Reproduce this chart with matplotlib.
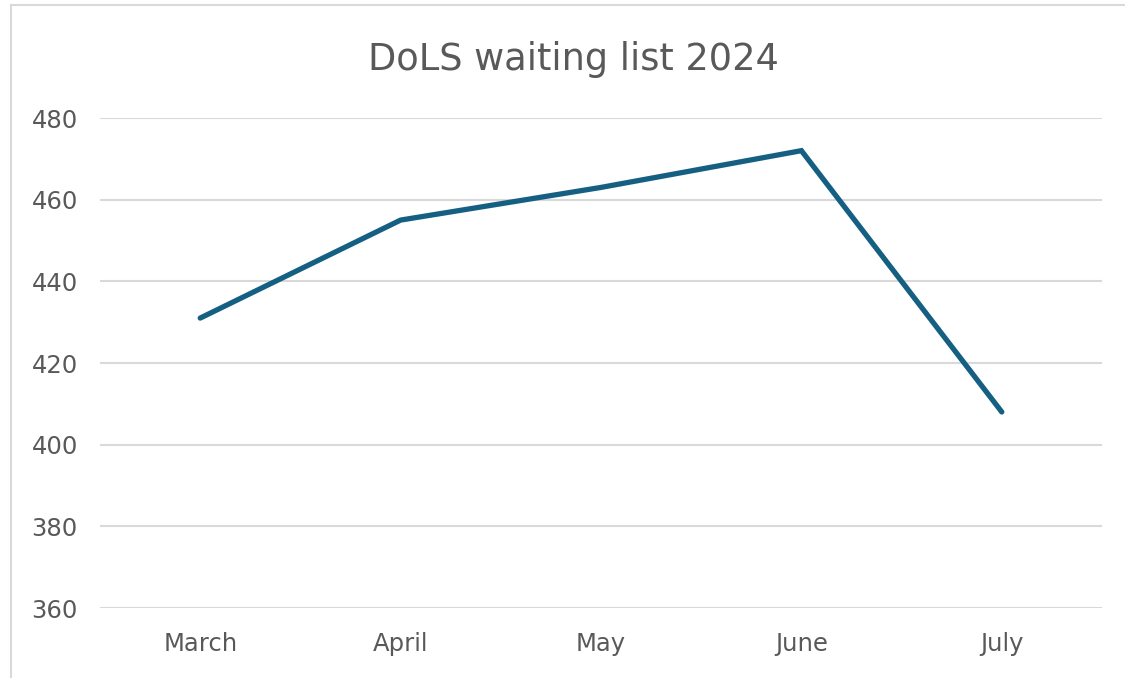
import matplotlib.pyplot as plt
from matplotlib.lines import Line2D

months = ['March', 'April', 'May', 'June', 'July']
waiting = [431, 455, 463, 472, 408]
yticks = [360, 380, 400, 420, 440, 460, 480]

plt.rcParams['font.family'] = ['DejaVu Sans']
grey = '#595959'

fig = plt.figure(figsize=(11.25, 6.78), dpi=100)
ax = fig.add_axes([100 / 1125, 70 / 678, 1002 / 1125, 490 / 678])

ax.plot(range(len(months)), waiting, color='#156082', linewidth=3.8,
        solid_capstyle='round', solid_joinstyle='miter', zorder=3)

ax.set_xlim(-0.5, len(months) - 0.5)
ax.set_ylim(360, 480)
ax.set_yticks(yticks)
ax.set_xticks(range(len(months)))
ax.set_xticklabels(months)
ax.grid(axis='y', color='#d9d9d9', linewidth=1.5)
ax.set_axisbelow(True)
for s in ax.spines.values():
    s.set_visible(False)
ax.tick_params(length=0, labelsize=17.5, colors=grey)
ax.tick_params(axis='y', pad=16)
ax.tick_params(axis='x', pad=17)

fig.text(573 / 1125, 1 - 70 / 678, 'DoLS waiting list 2024', ha='center',
         va='baseline', fontsize=26.5, color=grey)

# chart frame (only top and left edges visible in the crop)
fig.add_artist(Line2D([11 / 1125, 11 / 1125], [0, 1 - 5 / 678],
                      transform=fig.transFigure, color='#d9d9d9', linewidth=1.5))
fig.add_artist(Line2D([11 / 1125, 1], [1 - 5 / 678, 1 - 5 / 678],
                      transform=fig.transFigure, color='#d9d9d9', linewidth=1.5))

fig.savefig('out.png', dpi=100)
